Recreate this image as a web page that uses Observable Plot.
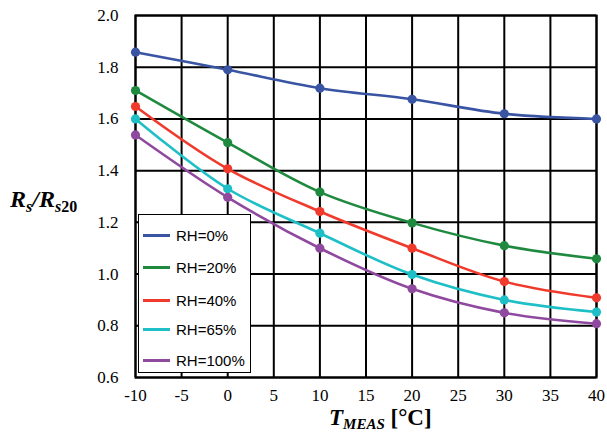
<!DOCTYPE html>
<html>
<head>
<meta charset="utf-8">
<script src="https://cdn.jsdelivr.net/npm/d3@7"></script>
<script src="https://cdn.jsdelivr.net/npm/@observablehq/plot@0.6"></script>
<style>
  body { margin: 0; background: #fff; }
  #wrap { position: relative; width: 607px; height: 436px; }
  #legend {
    position: absolute; left: 138px; top: 214px; width: 113px; height: 159px;
    background: #fff; border: 1px solid #000; box-sizing: border-box;
    font-family: "Liberation Sans", Arial, sans-serif; font-size: 15px;
  }
  .row { position: absolute; left: 0; height: 20px; display: flex; align-items: center; }
  .sw { width: 27px; height: 3px; margin-left: 4px; margin-right: 6px; }
</style>
</head>
<body>
<div id="wrap"></div>
<script>
const temps = [-10, 0, 10, 20, 30, 40];
const seriesNames = ["RH=0%", "RH=20%", "RH=40%", "RH=65%", "RH=100%"];
const colors = ["#3a54a4", "#1f8a3f", "#ef3a2c", "#1ebfc6", "#8f4a9f"];
const rh0   = [1.858, 1.790, 1.719, 1.676, 1.620, 1.600];
const rh20  = [1.710, 1.508, 1.317, 1.198, 1.110, 1.059];
const rh40  = [1.648, 1.407, 1.242, 1.100, 0.971, 0.908];
const rh65  = [1.600, 1.330, 1.158, 0.998, 0.900, 0.853];
const rh100 = [1.538, 1.297, 1.100, 0.943, 0.850, 0.808];
const xTicks = [-10, -5, 0, 5, 10, 15, 20, 25, 30, 35, 40];
const yTicks = [0.6, 0.8, 1.0, 1.2, 1.4, 1.6, 1.8, 2.0];

const allSeries = [rh0, rh20, rh40, rh65, rh100];
const data = [];
allSeries.forEach((vals, i) => vals.forEach((v, j) => data.push({t: temps[j], v, s: seriesNames[i]})));

const chart = Plot.plot({
  width: 607, height: 436,
  marginLeft: 135, marginRight: 11, marginTop: 15, marginBottom: 59,
  x: {domain: [-10, 40]},
  y: {domain: [0.6, 2.0]},
  color: {domain: seriesNames, range: colors},
  style: {fontFamily: "'Liberation Serif', 'Times New Roman', serif", fontSize: "17px", color: "#000", background: "#fff"},
  marks: [
    Plot.gridX(xTicks, {stroke: "#000", strokeOpacity: 1, strokeWidth: 2}),
    Plot.gridY(yTicks, {stroke: "#000", strokeOpacity: 1, strokeWidth: 2}),
    Plot.frame({stroke: "#000", strokeWidth: 2}),
    Plot.axisX(xTicks, {tickSize: 0, tickPadding: 11, tickFormat: d => String(d), label: null}),
    Plot.axisY(yTicks, {tickSize: 0, tickPadding: 17, tickFormat: d => d.toFixed(1), label: null}),
    Plot.line(data, {x: "t", y: "v", z: "s", stroke: "s", strokeWidth: 2.6, curve: "catmull-rom"}),
    Plot.dot(data, {x: "t", y: "v", fill: "s", r: 4.6})
  ]
});

const wrap = document.getElementById("wrap");
wrap.appendChild(chart);

const svg = d3.select(chart);
// y-axis title
const yt = svg.append("text")
  .attr("x", 10).attr("y", 207)
  .attr("text-anchor", "start")
  .attr("font-family", "'Liberation Serif', 'Times New Roman', serif")
  .attr("font-weight", "bold").attr("font-style", "italic").attr("font-size", 24)
  .attr("fill", "#000");
yt.append("tspan").text("R");
yt.append("tspan").attr("font-size", 16).attr("dy", 5).text("s");
yt.append("tspan").attr("dy", -5).text("/R");
yt.append("tspan").attr("font-size", 16).attr("dy", 5).text("s");
yt.append("tspan").attr("font-size", 16).attr("font-style", "normal").text("20");

// x-axis title
const xt = svg.append("text")
  .attr("x", 329).attr("y", 425)
  .attr("text-anchor", "start")
  .attr("font-family", "'Liberation Serif', 'Times New Roman', serif")
  .attr("font-weight", "bold").attr("font-size", 23)
  .attr("fill", "#000");
xt.append("tspan").attr("font-style", "italic").text("T");
xt.append("tspan").attr("font-style", "italic").attr("font-size", 15).attr("dy", 4).text("MEAS");
xt.append("tspan").attr("dy", -4).text(" [°C]");

// legend
const legend = document.createElement("div");
legend.id = "legend";
const rowTops = [10, 42, 75, 104, 135];
seriesNames.forEach((name, i) => {
  const row = document.createElement("div");
  row.className = "row";
  row.style.top = rowTops[i] + "px";
  const sw = document.createElement("div");
  sw.className = "sw";
  sw.style.background = colors[i];
  const lab = document.createElement("span");
  lab.textContent = name;
  row.appendChild(sw); row.appendChild(lab);
  legend.appendChild(row);
});
wrap.appendChild(legend);
</script>
</body>
</html>
